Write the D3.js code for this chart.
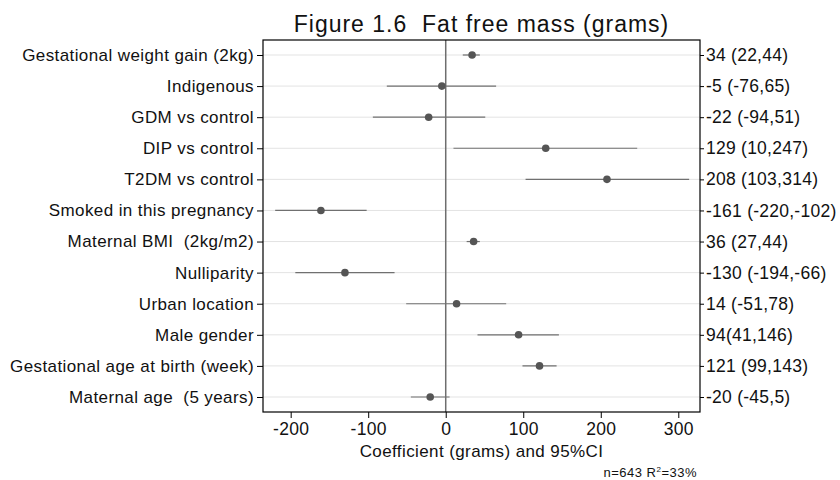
<!DOCTYPE html>
<html><head><meta charset="utf-8">
<script src="https://cdn.jsdelivr.net/npm/d3@7"></script>
<style>body{margin:0;background:#fff}svg{display:block}text{font-family:"Liberation Sans",Arial,sans-serif;fill:#111;white-space:pre}</style>
</head><body><svg id="c" width="840" height="480"></svg>
<script>
const categories = ["Gestational weight gain (2kg)","Indigenous","GDM vs control","DIP vs control","T2DM vs control","Smoked in this pregnancy","Maternal BMI  (2kg/m2)","Nulliparity","Urban location","Male gender","Gestational age at birth (week)","Maternal age  (5 years)"];
const estimates = [34,-5,-22,129,208,-161,36,-130,14,94,121,-20];
const lower = [22,-76,-94,10,103,-220,27,-194,-51,41,99,-45];
const upper = [44,65,51,247,314,-102,44,-66,78,146,143,5];
const rightLabels = ["34 (22,44)","-5 (-76,65)","-22 (-94,51)","129 (10,247)","208 (103,314)","-161 (-220,-102)","36 (27,44)","-130 (-194,-66)","14 (-51,78)","94(41,146)","121 (99,143)","-20 (-45,5)"];
const xTicks = [-200,-100,0,100,200,300];

const svg = d3.select("#c");
const L=263,R=700,T=40,B=412;
const x = d3.scaleLinear().domain([-235.7,328]).range([L,R]);
const y = d3.scalePoint().domain(categories).range([55,397]);
const FF = "Liberation Sans, Arial, sans-serif";

svg.append("g").selectAll("line").data(categories).join("line")
 .attr("x1",L).attr("x2",R).attr("y1",d=>y(d)).attr("y2",d=>y(d))
 .attr("stroke","#e3e3e3").attr("stroke-width",1);
svg.append("line").attr("x1",x(0)).attr("x2",x(0)).attr("y1",T).attr("y2",B).attr("stroke","#6e6e6e").attr("stroke-width",1.5);
const data = categories.map((c,i)=>({c,e:estimates[i],lo:lower[i],hi:upper[i]}));
svg.append("g").selectAll("line").data(data).join("line")
 .attr("x1",d=>x(d.lo)).attr("x2",d=>x(d.hi)).attr("y1",d=>y(d.c)).attr("y2",d=>y(d.c))
 .attr("stroke","#707070").attr("stroke-width",1.2);
svg.append("g").selectAll("circle").data(data).join("circle")
 .attr("cx",d=>x(d.e)).attr("cy",d=>y(d.c)).attr("r",3.8).attr("fill","#555");
svg.append("rect").attr("x",L).attr("y",T).attr("width",R-L).attr("height",B-T).attr("fill","none").attr("stroke","#000").attr("stroke-width",1.2);

const ax = svg.append("g").attr("transform",`translate(0,${B})`).call(d3.axisBottom(x).tickValues(xTicks).tickSize(6).tickPadding(5).tickFormat(d=>String(d)));
ax.select(".domain").remove();
ax.selectAll("text").attr("font-size",17.5).style("font-family",FF).style("letter-spacing","0.3px").attr("fill","#111");
const ay = svg.append("g").attr("transform",`translate(${L},0)`).call(d3.axisLeft(y).tickSize(6).tickPadding(3));
ay.select(".domain").remove();
ay.selectAll("text").attr("font-size",17).style("font-family",FF).style("letter-spacing","0.4px").attr("fill","#111");
const ar = svg.append("g").attr("transform",`translate(${R},0)`).call(d3.axisRight(y).tickSize(4).tickPadding(2).tickFormat((d,i)=>rightLabels[i]));
ar.select(".domain").remove();
ar.selectAll("text").attr("font-size",17.5).style("font-family",FF).style("letter-spacing","0.25px").attr("fill","#111");

svg.append("text").attr("x",(L+R)/2).attr("y",31.5).attr("text-anchor","middle").attr("font-size",23).style("letter-spacing","1px").text("Figure 1.6  Fat free mass (grams)");
svg.append("text").attr("x",(L+R)/2).attr("y",457).attr("text-anchor","middle").attr("font-size",17).style("letter-spacing","0.4px").text("Coefficient (grams) and 95%CI");
const n = svg.append("text").attr("x",697).attr("y",476.5).attr("text-anchor","end").attr("font-size",13).style("letter-spacing","0.5px");
n.append("tspan").text("n=643 R");
n.append("tspan").attr("dy",-5).attr("font-size",8).text("2");
n.append("tspan").attr("dy",5).text("=33%");
</script></body></html>
